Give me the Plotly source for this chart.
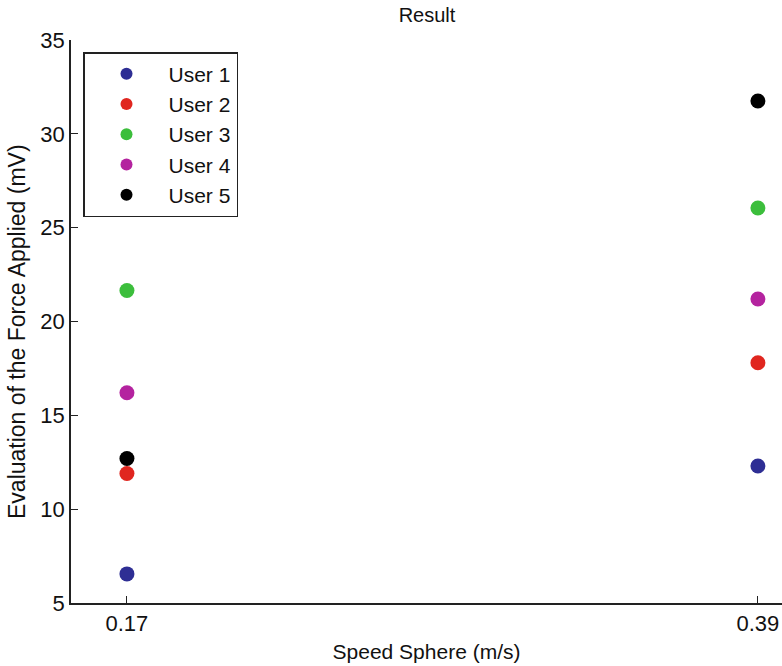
import plotly.graph_objects as go

speeds = [0.17, 0.39]
users = ["User 1", "User 2", "User 3", "User 4", "User 5"]
force_values = {
    "User 1": [6.55, 12.3],
    "User 2": [11.9, 17.8],
    "User 3": [21.65, 26.05],
    "User 4": [16.2, 21.2],
    "User 5": [12.7, 31.75],
}
colors = ["#2e2e94", "#e0261f", "#3cbe3c", "#b4239f", "#000000"]
x_ticks = [0.17, 0.39]
x_tick_labels = ["0.17", "0.39"]
y_ticks = [5, 10, 15, 20, 25, 30, 35]

fig = go.Figure()
for u, c in zip(users, colors):
    fig.add_trace(go.Scatter(
        x=speeds, y=force_values[u], mode="markers", name=u,
        marker=dict(color=c, size=15, line=dict(width=0)),
    ))

W, H = 782, 666
L, R, T, B = 71, 0, 40, 63
font = dict(family="Liberation Sans, Arial, sans-serif", size=20, color="#111111")
fig.update_layout(
    width=W, height=H,
    margin=dict(l=L, r=R, t=T, b=B),
    paper_bgcolor="white", plot_bgcolor="white",
    font=font,
    title=dict(text="Result", x=427 / W, xanchor="center", y=1 - 15 / H, yanchor="middle",
               font=dict(size=20)),
    showlegend=True,
    legend=dict(x=(83 - L) / (W - L - R), y=(H - B - 52) / (H - T - B), xanchor="left", yanchor="top",
                bordercolor="#222222", borderwidth=1.5, bgcolor="white",
                font=dict(size=21), itemsizing="constant", tracegroupgap=0,
                itemwidth=74),
    annotations=[dict(
        text="Evaluation of the Force Applied (mV)", textangle=-90,
        xref="paper", yref="paper",
        x=(17 - L) / (W - L - R), y=(H - B - 332) / (H - T - B),
        xanchor="center", yanchor="middle", showarrow=False,
        font=dict(size=23),
    )],
)
fig.update_xaxes(
    range=[0.1505, 0.3984], tickvals=x_ticks, ticktext=x_tick_labels,
    ticks="inside", ticklen=7, tickcolor="#222222", automargin=False,
    showline=True, linecolor="#222222", linewidth=1.5, showgrid=False, zeroline=False,
    title=dict(text="Speed Sphere (m/s)", standoff=9, font=dict(size=21)),
    tickfont=dict(size=22),
)
fig.update_yaxes(
    range=[5, 35], tickvals=y_ticks,
    ticks="inside", ticklen=7, tickcolor="#222222", automargin=False,
    showline=True, linecolor="#222222", linewidth=1.5, showgrid=False, zeroline=False,
    tickfont=dict(size=22),
)
fig.write_html("out.html", config={"displayModeBar": False},
               post_script="document.body.style.margin='0';document.body.style.padding='0';")
